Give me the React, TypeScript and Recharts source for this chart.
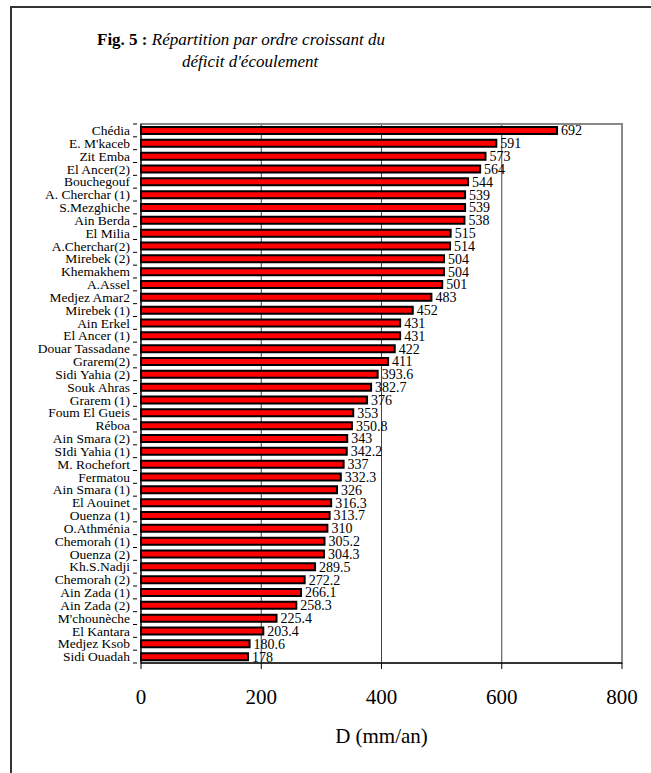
import React from 'react'
import {
  Bar,
  BarChart,
  CartesianGrid,
  Label,
  LabelList,
  ReferenceArea,
  XAxis,
  YAxis,
} from 'recharts'

// Stations, sorted by decreasing deficit (top to bottom)
const stations = [
  'Chédia', "E. M'kaceb", 'Zit Emba', 'El Ancer(2)', 'Bouchegouf',
  'A. Cherchar (1)', 'S.Mezghiche', 'Ain Berda', 'El Milia', 'A.Cherchar(2)',
  'Mirebek (2)', 'Khemakhem', 'A.Assel', 'Medjez Amar2', 'Mirebek (1)',
  'Ain Erkel', 'El Ancer (1)', 'Douar Tassadane', 'Grarem(2)', 'Sidi Yahia (2)',
  'Souk Ahras', 'Grarem (1)', 'Foum El Gueis', 'Réboa', 'Ain Smara (2)',
  'SIdi Yahia (1)', 'M. Rochefort', 'Fermatou', 'Ain Smara (1)', 'El Aouinet',
  'Ouenza (1)', 'O.Athménia', 'Chemorah (1)', 'Ouenza (2)', 'Kh.S.Nadji',
  'Chemorah (2)', 'Ain Zada (1)', 'Ain Zada (2)', "M'chounèche", 'El Kantara',
  'Medjez Ksob', 'Sidi Ouadah',
]

// Déficit d'écoulement D (mm/an)
const deficit = [
  692, 591, 573, 564, 544,
  539, 539, 538, 515, 514,
  504, 504, 501, 483, 452,
  431, 431, 422, 411, 393.6,
  382.7, 376, 353, 350.8, 343,
  342.2, 337, 332.3, 326, 316.3,
  313.7, 310, 305.2, 304.3, 289.5,
  272.2, 266.1, 258.3, 225.4, 203.4,
  180.6, 178,
]

const xTicks = [0, 200, 400, 600, 800]

const data = stations.map((name, i) => ({ name, value: deficit[i] }))

const SERIF = '"Liberation Serif", "Times New Roman", serif'

// Category tick: label centred on the band, tick mark on the band boundary
const StationTick = (props: any) => {
  const { x, y, payload, index, visibleTicksCount } = props
  const half = payload?.offset || 6.4
  const isLast = index === visibleTicksCount - 1
  return (
    <g>
      <line x1={x} x2={x + 4} y1={y - half} y2={y - half} stroke='#000' />
      {isLast && (
        <line x1={x} x2={x + 4} y1={y + half} y2={y + half} stroke='#000' />
      )}
      <text
        x={x - 3}
        y={y}
        dy='0.35em'
        textAnchor='end'
        fontSize={13.5}
        fontFamily={SERIF}
        fill='#000'
      >
        {payload.value}
      </text>
    </g>
  )
}

export default function App() {
  return (
    <div
      style={{
        position: 'absolute',
        left: 0,
        top: 0,
        width: 651,
        height: 773,
        background: '#fff',
        overflow: 'hidden',
        fontFamily: SERIF,
      }}
    >
      <div
        style={{
          position: 'absolute',
          left: 10,
          top: 6,
          width: 700,
          height: 800,
          borderLeft: '2px solid #333',
          borderTop: '2px solid #333',
        }}
      />
      <div
        style={{
          position: 'absolute',
          left: 97,
          top: 30,
          fontSize: 17,
          lineHeight: '20px',
          whiteSpace: 'nowrap',
          color: '#000',
        }}
      >
        <b>Fig. 5 :</b> <i>Répartition par ordre croissant du</i>
      </div>
      <div
        style={{
          position: 'absolute',
          left: 182,
          top: 52,
          fontSize: 17,
          lineHeight: '20px',
          whiteSpace: 'nowrap',
          color: '#000',
        }}
      >
        <i>déficit d'écoulement</i>
      </div>
      <div style={{ position: 'absolute', left: 0, top: 0 }}>
        <BarChart
          width={651}
          height={773}
          data={data}
          layout='vertical'
          barCategoryGap={0}
          margin={{ top: 124, right: 29, bottom: 0, left: 10 }}
        >
          <CartesianGrid horizontal={false} stroke='#444' />
          <ReferenceArea x1={0} x2={800} fill='none' stroke='#888' strokeWidth={2} ifOverflow='visible' />
          <XAxis
            type='number'
            domain={[0, 800]}
            ticks={xTicks}
            height={110}
            axisLine={{ stroke: '#333', strokeWidth: 2 }}
            tickLine={{ stroke: '#000' }}
            tickSize={6}
            tickMargin={20}
            tick={{ fontSize: 21, fontFamily: SERIF, fill: '#000' }}
          >
            <Label
              value='D (mm/an)'
              position='insideBottom'
              offset={30}
              style={{ fontSize: 21, fontFamily: SERIF, fill: '#000' }}
            />
          </XAxis>
          <YAxis
            type='category'
            dataKey='name'
            width={131}
            interval={0}
            axisLine={{ stroke: '#000' }}
            tickLine={false}
            tick={<StationTick />}
          />
          <Bar
            dataKey='value'
            fill='#ff0000'
            stroke='#000'
            strokeWidth={2}
            barSize={7}
            isAnimationActive={false}
          >
            <LabelList
              dataKey='value'
              position='right'
              offset={4}
              style={{ fontSize: 14, fontFamily: SERIF, fill: '#000' }}
            />
          </Bar>
        </BarChart>
      </div>
    </div>
  )
}
